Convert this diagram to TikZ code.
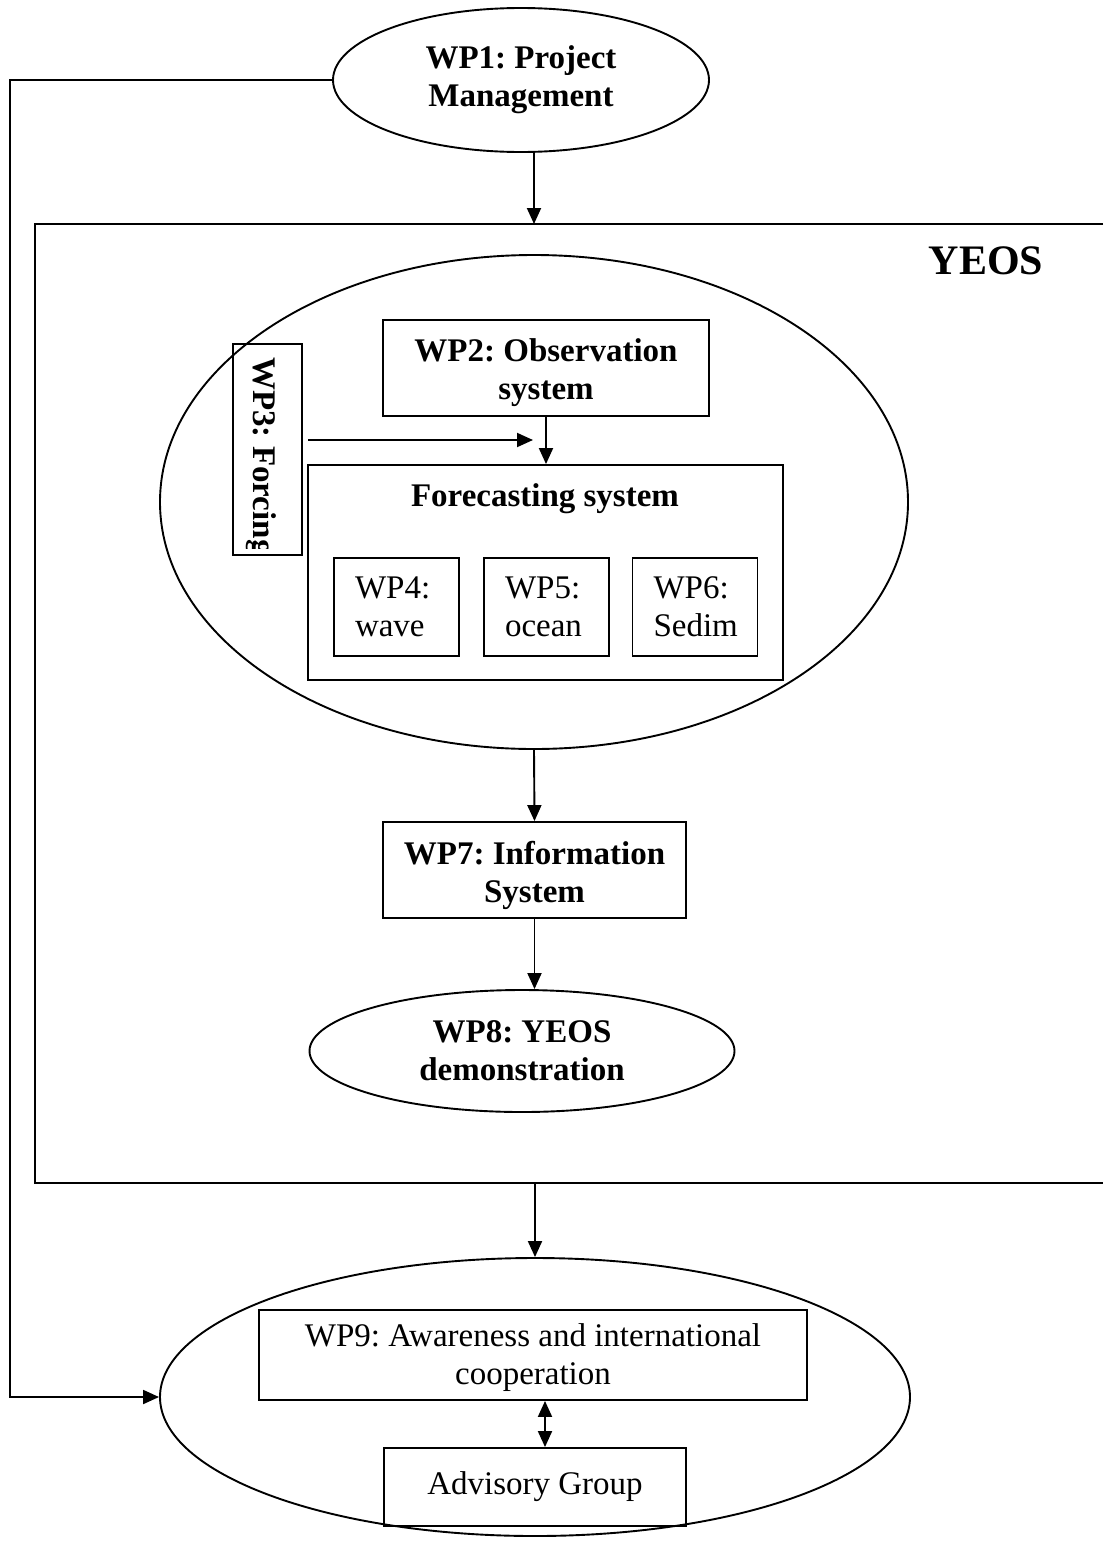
\documentclass[tikz,border=0pt]{standalone}
\usepackage{fontspec}
\setmainfont{Liberation Serif}
\usetikzlibrary{arrows.meta,shapes.geometric}
\begin{document}
\frenchspacing
\begin{tikzpicture}[x=1pt,y=-1pt,
  every node/.style={font=\fontsize{33}{38}\selectfont},
  ln/.style={line width=1.9pt},
  arr/.style={ln,-{Triangle[length=16pt,width=14pt]}},
  darr/.style={ln,{Triangle[length=16pt,width=14pt]}-{Triangle[length=16pt,width=14pt]}},
  wpbox/.style={draw,ln,rectangle,inner sep=0pt,align=center},
  wpell/.style={draw,ln,ellipse,inner sep=0pt,align=center},
  bf/.style={font=\fontsize{33}{38}\selectfont\bfseries},
  subbox/.style={draw,ln,rectangle,inner xsep=21pt,inner ysep=0pt,text width=83pt,align=left,minimum height=98pt}
]
\useasboundingbox (0,0) rectangle (1103,1566);

% WP1
\node[wpell,bf,minimum width=376pt,minimum height=144pt] (wp1) at (521,80) {WP1: Project\\Management};

% YEOS frame
\coordinate (yTR) at (1103,224);
\coordinate (yTL) at (35,224);
\coordinate (yBL) at (35,1183);
\coordinate (yBR) at (1103,1183);
\draw[ln] (yTR) -- (yTL) -- (yBL) -- (yBR);
\node[font=\fontsize{42}{48}\selectfont\bfseries] (yeos) at (986,261) {YEOS};
\coordinate (yin) at (534,224);
\draw[arr] (wp1.south -| yin) -- (yin);

% outer ellipse 1
\node[draw,ln,ellipse,minimum width=748pt,minimum height=494pt] (outer1) at (534,502) {};

% WP2
\node[wpbox,minimum width=326pt,minimum height=96pt] (wp2) at (546,368) {};
\node[bf,align=center,inner sep=0pt] (wp2t) at ([yshift=-5pt]wp2.center) {WP2: Observation\\system};

% WP3
\node[draw,ln,rectangle,inner sep=0pt,minimum width=69pt,minimum height=211pt] (wp3) at (267.5,449.5) {};
\begin{scope}
\clip (235,346) rectangle (300,548);
\node[bf,rotate=-90,anchor=base west,inner sep=0pt] (wp3t) at (253,357) {WP3: Forcing};
\end{scope}

% Forecasting system
\node[wpbox,minimum width=475pt,minimum height=215pt] (fc) at (545.5,572.5) {};
\node[bf] (fct) at (545,499) {Forecasting system};
\coordinate (a3s) at (308,440);
\coordinate (a3e) at (533,440);
\draw[arr] (a3s) -- (a3e);
\draw[arr] (wp2.south) -- (wp2.south |- fc.north);

\node[subbox] (wp4) at (396.5,607) {WP4:\\wave};
\node[subbox] (wp5) at (546.5,607) {WP5:\\ocean};
\node[subbox] (wp6) at (695,607) {WP6:\\Sedim};

% WP7
\node[wpbox,minimum width=303pt,minimum height=96pt] (wp7) at (534.5,870) {};
\node[bf,align=center,inner sep=0pt] (wp7t) at ([yshift=-5pt]wp7.center) {WP7: Information\\System};
\draw[arr] (outer1.south) -- (wp7.north);

% WP8
\node[wpell,bf,minimum width=425pt,minimum height=122pt] (wp8) at (522,1051) {WP8: YEOS\\demonstration};
\draw[arr] (wp7.south) -- (wp7.south |- wp8.north);

% outer ellipse 2
\node[draw,ln,ellipse,minimum width=750pt,minimum height=278pt] (outer2) at (535,1397) {};
\coordinate (yout) at (535,1183);
\draw[arr] (yout) -- (outer2.north);

% WP9 and advisory
\node[wpbox,minimum width=548pt,minimum height=90pt] (wp9) at (533,1355) {};
\node[align=center,inner sep=0pt] (wp9t) at ([yshift=-3pt]wp9.center) {WP9: Awareness and international\\cooperation};
\node[wpbox,minimum width=302pt,minimum height=78pt] (adv) at (535,1487) {Advisory Group};
\coordinate (dx) at (545,0);
\draw[darr] (wp9.south -| dx) -- (adv.north -| dx);

% WP1 to outer ellipse 2
\coordinate (lc) at (10,1397);
\draw[arr] (wp1.west) -| (lc) -- (outer2.west);
\end{tikzpicture}
\end{document}
